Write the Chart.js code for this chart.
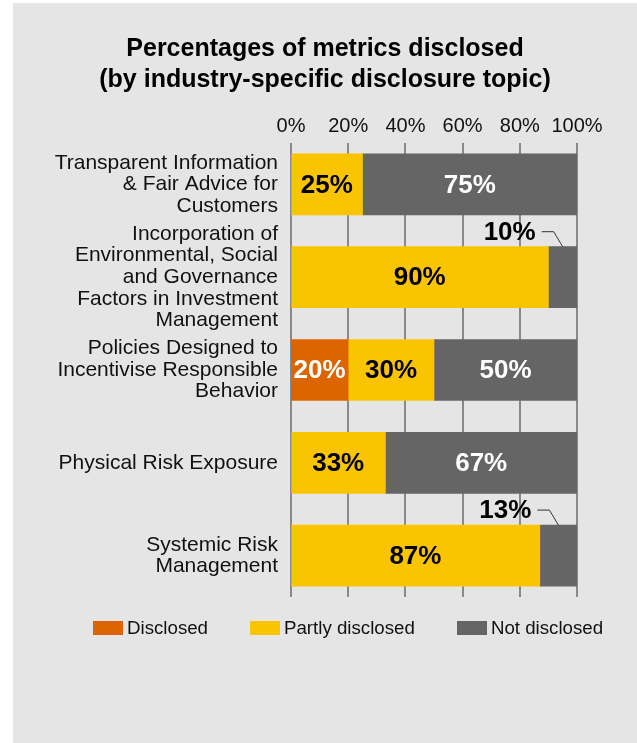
<!DOCTYPE html>
<html>
<head>
<meta charset="utf-8">
<script src="https://cdn.jsdelivr.net/npm/chart.js@4/dist/chart.umd.min.js"></script>
<style>
  html, body { margin: 0; padding: 0; background: #fff; }
  body { width: 637px; height: 743px; position: relative; overflow: hidden; font-family: "Liberation Sans", Arial, sans-serif; }
  .panel { position: absolute; left: 13px; top: 3px; width: 624px; height: 740px; background: #e5e5e5; }
  #disclosureChart { position: absolute; left: 13px; top: 3px; }
  .legend { position: absolute; left: 93px; top: 618px; display: flex; gap: 42px; font-size: 18.7px; line-height: 20px; color: #111; }
  .legend-item { display: flex; align-items: center; gap: 4px; white-space: nowrap; }
  .legend-box { width: 30px; height: 14px; display: inline-block; }
</style>
</head>
<body>
<div class="panel"></div>
<canvas id="disclosureChart" width="624" height="740"></canvas>
<div class="legend" id="legend"></div>

<script>
  "use strict";

  const topics = [
    ["Transparent Information", "& Fair Advice for", "Customers"],
    ["Incorporation of", "Environmental, Social", "and Governance", "Factors in Investment", "Management"],
    ["Policies Designed to", "Incentivise Responsible", "Behavior"],
    ["Physical Risk Exposure"],
    ["Systemic Risk", "Management"]
  ];

  const disclosed = [0, 0, 20, 0, 0];
  const partlyDisclosed = [25, 90, 30, 33, 87];
  const notDisclosed = [75, 10, 50, 67, 13];

  const xTicks = [0, 20, 40, 60, 80, 100];

  const COLORS = {
    orange: "#dc6500",
    yellow: "#fbc400",
    grey: "#656565"
  };

  const FONT = "'Liberation Sans', Arial, sans-serif";

  // vertical grid lines, kept a little short of the plot edges
  const gridPlugin = {
    id: "shortGrid",
    beforeDatasetsDraw(chart) {
      const { ctx, chartArea, scales } = chart;
      ctx.save();
      ctx.strokeStyle = "#727272";
      ctx.lineWidth = 1.6;
      xTicks.forEach((t) => {
        const x = Math.round(scales.x.getPixelForValue(t));
        ctx.beginPath();
        ctx.moveTo(x, chartArea.top + 5);
        ctx.lineTo(x, chartArea.bottom - 5);
        ctx.stroke();
      });
      ctx.restore();
    }
  };

  // percentage labels inside segments; narrow segments get a callout above
  const valueLabels = {
    id: "valueLabels",
    afterDatasetsDraw(chart) {
      const { ctx } = chart;
      ctx.save();
      ctx.font = "bold 26px " + FONT;
      ctx.textBaseline = "middle";
      chart.data.datasets.forEach((ds, di) => {
        const meta = chart.getDatasetMeta(di);
        meta.data.forEach((bar, i) => {
          const v = ds.data[i];
          if (!v) return;
          const { x, base, y, height } = bar.getProps(["x", "base", "y", "height"], true);
          const cx = (x + base) / 2;
          const label = v + "%";
          if (v >= 15) {
            ctx.fillStyle = ds.labelColor;
            ctx.textAlign = "center";
            ctx.fillText(label, cx, y + 1);
          } else {
            const top = y - height / 2;
            const ly = top - 15;
            ctx.fillStyle = "#000";
            ctx.textAlign = "right";
            ctx.fillText(label, cx - 27, ly + 1);
            ctx.strokeStyle = "#333";
            ctx.lineWidth = 1;
            ctx.beginPath();
            ctx.moveTo(cx - 21, ly);
            ctx.lineTo(cx - 9, ly);
            ctx.lineTo(cx, top);
            ctx.stroke();
          }
        });
      });
      ctx.restore();
    }
  };

  const chart = new Chart(document.getElementById("disclosureChart"), {
    type: "bar",
    data: {
      labels: topics,
      datasets: [
        { label: "Disclosed", data: disclosed, backgroundColor: COLORS.orange, labelColor: "#fff" },
        { label: "Partly disclosed", data: partlyDisclosed, backgroundColor: COLORS.yellow, labelColor: "#000" },
        { label: "Not disclosed", data: notDisclosed, backgroundColor: COLORS.grey, labelColor: "#fff" }
      ].map((ds) => ({ ...ds, barThickness: 61, borderWidth: 0 }))
    },
    options: {
      indexAxis: "y",
      responsive: false,
      animation: false,
      devicePixelRatio: 1,
      layout: { padding: { left: 0, right: 0, top: 0, bottom: 141 } },
      plugins: {
        legend: { display: false },
        tooltip: { enabled: false },
        title: {
          display: true,
          text: ["Percentages of metrics disclosed", "(by industry-specific disclosure topic)"],
          color: "#000",
          font: { family: FONT, size: 25, weight: "bold", lineHeight: 1.24 },
          padding: { top: 30.5, bottom: 0 }
        }
      },
      scales: {
        x: {
          position: "top",
          stacked: true,
          min: 0,
          max: 100,
          grid: { display: false, drawTicks: false },
          border: { display: false },
          ticks: {
            stepSize: 20,
            padding: 0,
            color: "#111",
            font: { family: FONT, size: 20 },
            callback: (v) => v + "%"
          },
          afterFit: (scale) => { scale.height = 42.5; }
        },
        y: {
          stacked: true,
          grid: { display: false, drawTicks: false },
          border: { display: false },
          ticks: {
            autoSkip: false,
            padding: 13,
            color: "#111",
            font: { family: FONT, size: 21, lineHeight: 1.03 }
          },
          afterFit: (scale) => { scale.width = 278; }
        },
        // empty right-hand axis: reserves the margin on the right of the plot
        spacer: {
          axis: "y",
          type: "linear",
          position: "right",
          grid: { display: false, drawTicks: false },
          border: { display: false },
          ticks: { display: false },
          afterFit: (scale) => { scale.width = 60; }
        }
      }
    },
    plugins: [gridPlugin, valueLabels]
  });

  // legend row under the plot
  const legendEl = document.getElementById("legend");
  chart.data.datasets.forEach((ds) => {
    const item = document.createElement("span");
    item.className = "legend-item";
    const box = document.createElement("span");
    box.className = "legend-box";
    box.style.background = ds.backgroundColor;
    item.appendChild(box);
    item.appendChild(document.createTextNode(ds.label));
    legendEl.appendChild(item);
  });
</script>
</body>
</html>
